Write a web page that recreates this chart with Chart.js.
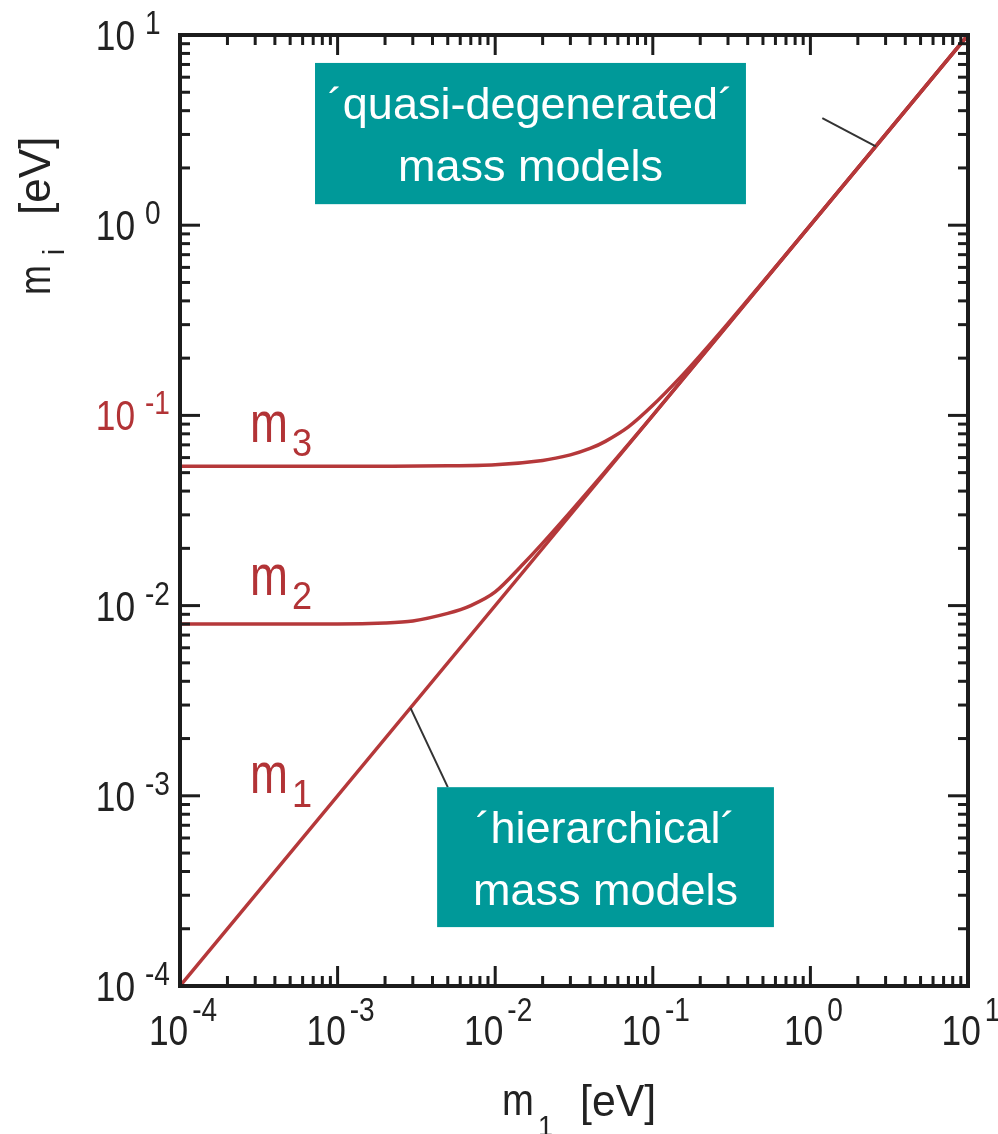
<!DOCTYPE html>
<html>
<head>
<meta charset="utf-8">
<script src="https://cdn.jsdelivr.net/npm/chart.js@4.4.1/dist/chart.umd.min.js"></script>
<style>
  html, body { margin: 0; padding: 0; background: #fff; }
</style>
</head>
<body>
<canvas id="massChart" width="998" height="1134"></canvas>
<script>
// lightest neutrino mass m1 [eV] on x, the three masses m_i [eV] on y
var decades = [-4, -3, -2, -1, 0, 1];

var m1Mass = [0.0001, 10];
var m1Val  = [0.0001, 10];

var m2Mass = [0.0001, 0.001, 0.002, 0.003, 0.005, 0.007, 0.01, 0.015, 0.02, 0.03, 0.05, 0.1, 1, 10];
var m2Val  = [0.008, 0.008, 0.0081, 0.0083, 0.0091, 0.0100, 0.0118, 0.0165, 0.0213, 0.0311, 0.0508, 0.1, 1, 10];

var m3Mass = [0.0001, 0.001, 0.005, 0.01, 0.02, 0.03, 0.04, 0.05, 0.07, 0.1, 0.15, 0.2, 0.3, 1, 10];
var m3Val  = [0.054, 0.054, 0.0543, 0.055, 0.058, 0.062, 0.067, 0.073, 0.087, 0.113, 0.159, 0.207, 0.305, 1, 10];

var curveNames = ['m', 'm', 'm'];
var curveSubs  = ['3', '2', '1'];

var noteLines = [
    ['\u00b4quasi-degenerated\u00b4', 'mass models'],
    ['\u00b4hierarchical\u00b4', 'mass models']
];

var lineColor = '#b5383a';
var labelRed = '#b23336';
var inkColor = '#222222';
var teal = '#009999';
var font = '"Liberation Sans", Arial, Helvetica, sans-serif';

// where the text sits, in data units
var curveLabelPos = [[2.78e-4, 0.0724], [2.78e-4, 0.01137], [2.78e-4, 0.00104]];
var noteBoxes = [
    { x0: 7.19e-4, x1: 0.390, y0: 7.13, y1: 1.29, from: [1.19, 3.66], to: [2.6, 2.6] },
    { x0: 4.28e-3, x1: 0.587, y0: 1.11e-3, y1: 2.04e-4, from: [5.0e-3, 1.11e-3], to: [0.0029, 0.0029] }
];

function pairs(xs, ys) {
    return xs.map(function(x, i) { return { x: x, y: ys[i] }; });
}

function txt(ctx, s, x, y, size, sx, align, color) {
    ctx.save();
    ctx.font = size + 'px ' + font;
    ctx.fillStyle = color;
    ctx.textAlign = align || 'left';
    ctx.textBaseline = 'alphabetic';
    ctx.translate(x, y);
    ctx.scale(sx, 1);
    ctx.fillText(s, 0, 0);
    ctx.restore();
}

function txtW(ctx, s, size, sx) {
    ctx.save();
    ctx.font = size + 'px ' + font;
    var w = ctx.measureText(s).width * sx;
    ctx.restore();
    return w;
}

function seg(ctx, x0, y0, x1, y1) {
    ctx.beginPath();
    ctx.moveTo(x0, y0);
    ctx.lineTo(x1, y1);
    ctx.stroke();
}

var frame = {
    id: 'frame',
    afterDatasetsDraw: function(chart) {
        var ctx = chart.ctx;
        var a = chart.chartArea;
        var xs = chart.scales.x, ys = chart.scales.y;

        // ticks pointing inwards on all four sides
        ctx.save();
        ctx.strokeStyle = '#1c1c1c';
        ctx.lineWidth = 3;
        decades.forEach(function(p) {
            for (var k = 1; k <= 9; k++) {
                var v = k * Math.pow(10, p);
                if (v > 10.0001) break;
                var len = k === 1 ? 20 : 10;
                var px = xs.getPixelForValue(v);
                var py = ys.getPixelForValue(v);
                seg(ctx, px, a.bottom, px, a.bottom - len);
                seg(ctx, px, a.top, px, a.top + len);
                seg(ctx, a.left, py, a.left + len, py);
                seg(ctx, a.right, py, a.right - len, py);
            }
        });
        ctx.lineWidth = 4;
        ctx.strokeRect(a.left, a.top, a.right - a.left, a.bottom - a.top);
        ctx.restore();

        // tick labels 10^p
        decades.forEach(function(p) {
            var sup = String(p);
            var py = ys.getPixelForValue(Math.pow(10, p));
            var c = p === -1 ? labelRed : inkColor;
            txt(ctx, '10', a.left - 45, py + 15, 43, 0.82, 'right', c);
            txt(ctx, sup, a.left - 35, py - 1, 33, 0.85, 'left', c);

            var px = xs.getPixelForValue(Math.pow(10, p));
            var w10 = txtW(ctx, '10', 43, 0.82), ws = txtW(ctx, sup, 33, 0.85);
            var start = px + 3 - (w10 + 4 + ws) / 2;
            txt(ctx, '10', start, 1045, 43, 0.82, 'left', inkColor);
            txt(ctx, sup, start + w10 + 4, 1021, 33, 0.85, 'left', inkColor);
        });

        // axis titles
        txt(ctx, 'm', 502, 1115, 45, 0.85, 'left', inkColor);
        txt(ctx, '1', 538, 1136, 30, 0.9, 'left', inkColor);
        txt(ctx, '[eV]', 580, 1116, 45, 0.95, 'left', inkColor);

        ctx.save();
        ctx.translate(50, 295);
        ctx.rotate(-Math.PI / 2);
        txt(ctx, 'm', 0, 0, 45, 0.8, 'left', inkColor);
        txt(ctx, 'i', 40, 14, 30, 0.9, 'left', inkColor);
        txt(ctx, '[eV]', 80, 0, 45, 0.98, 'left', inkColor);
        ctx.restore();

        // curve labels
        curveNames.forEach(function(n, i) {
            var lx = xs.getPixelForValue(curveLabelPos[i][0]);
            var ly = ys.getPixelForValue(curveLabelPos[i][1]);
            var wm = txtW(ctx, n, 57, 0.8);
            txt(ctx, n, lx, ly, 57, 0.8, 'left', labelRed);
            txt(ctx, curveSubs[i], lx + wm + 4, ly + 14, 38, 0.95, 'left', labelRed);
        });

        // annotation boxes with leader lines
        noteBoxes.forEach(function(b, i) {
            ctx.save();
            ctx.strokeStyle = '#333';
            ctx.lineWidth = 2;
            seg(ctx, xs.getPixelForValue(b.from[0]), ys.getPixelForValue(b.from[1]),
                     xs.getPixelForValue(b.to[0]), ys.getPixelForValue(b.to[1]));
            var l = xs.getPixelForValue(b.x0), r = xs.getPixelForValue(b.x1);
            var t = ys.getPixelForValue(b.y0), btm = ys.getPixelForValue(b.y1);
            ctx.fillStyle = teal;
            ctx.fillRect(l, t, r - l, btm - t);
            ctx.restore();
            var cx = (l + r) / 2;
            txt(ctx, noteLines[i][0], cx, t + 56, 45, 1, 'center', '#ffffff');
            txt(ctx, noteLines[i][1], cx, t + 118, 45, 1, 'center', '#ffffff');
        });
    }
};

var massChart = new Chart(document.getElementById('massChart'), {
    type: 'scatter',
    data: {
        datasets: [
            { label: 'm3', data: pairs(m3Mass, m3Val) },
            { label: 'm2', data: pairs(m2Mass, m2Val) },
            { label: 'm1', data: pairs(m1Mass, m1Val) }
        ].map(function(d) {
            d.showLine = true;
            d.borderColor = lineColor;
            d.backgroundColor = lineColor;
            d.borderWidth = 3.5;
            d.pointRadius = 0;
            d.tension = 0.3;
            return d;
        })
    },
    options: {
        responsive: false,
        animation: false,
        layout: { padding: { left: 0, top: 35, right: 30, bottom: 0 } },
        plugins: {
            legend: { display: false },
            tooltip: { enabled: false }
        },
        scales: {
            x: {
                type: 'logarithmic',
                min: 1e-4,
                max: 10,
                ticks: { display: false },
                grid: { display: false },
                border: { display: false },
                afterFit: function(scale) { scale.height = 148; }
            },
            y: {
                type: 'logarithmic',
                min: 1e-4,
                max: 10,
                ticks: { display: false },
                grid: { display: false },
                border: { display: false },
                afterFit: function(scale) { scale.width = 180; }
            }
        }
    },
    plugins: [frame]
});
</script>
</body>
</html>
